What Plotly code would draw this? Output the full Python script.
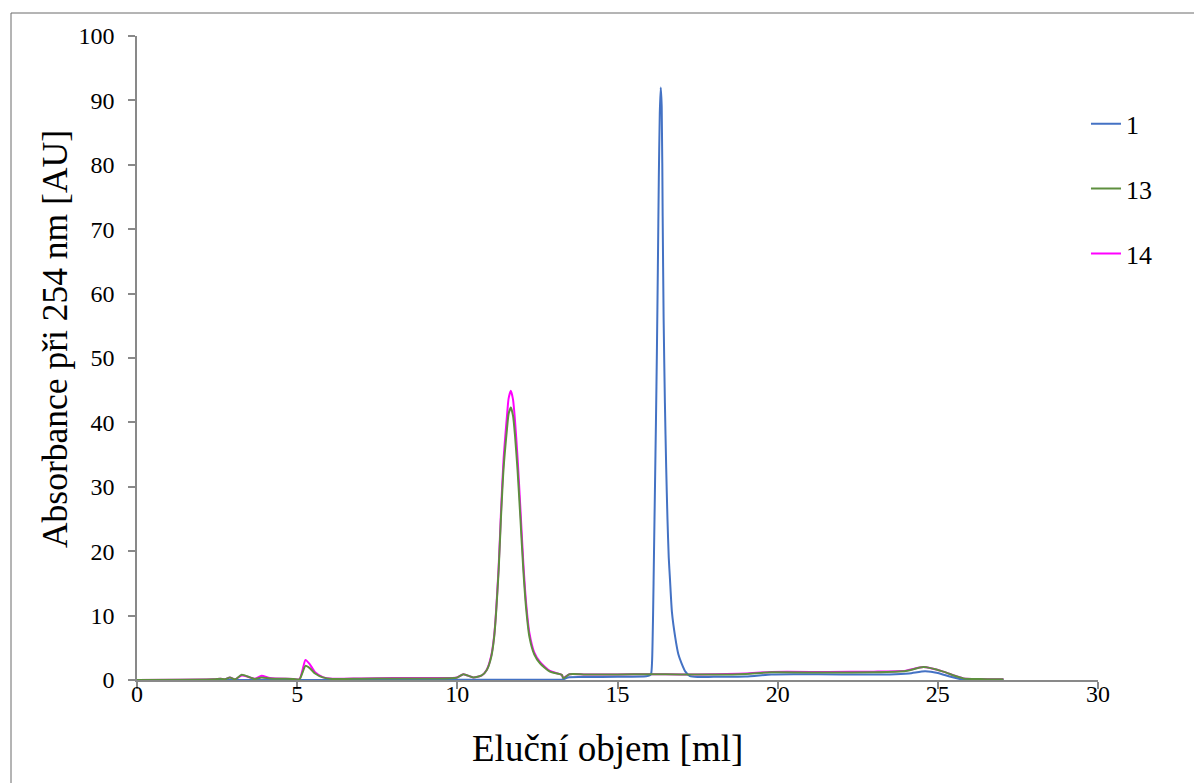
import plotly.graph_objects as go

# ---- data (elution volume [ml], absorbance [AU]) ----
x1 = [0, 2, 4, 6, 8, 10, 12, 13.3, 13.45, 14, 15, 15.9, 16.0, 16.05, 16.08, 16.11, 16.14, 16.17,
      16.20, 16.23, 16.26, 16.29, 16.32, 16.35, 16.38, 16.41, 16.44, 16.48, 16.52, 16.56, 16.60,
      16.64, 16.70, 16.80, 16.90, 17.00, 17.12, 17.26, 17.5, 18, 19, 19.8, 20.5, 22, 23.5, 24.1,
      24.6, 25.0, 25.4, 25.8, 26.5, 27.05]
y1 = [0, 0, 0, 0, 0.05, 0.05, 0.05, 0.1, 0.4, 0.45, 0.5, 0.6, 0.7, 1.0, 3, 10, 20, 30,
      40, 51, 64, 78, 88, 92, 89, 72, 56, 43, 33, 25, 19,
      15.5, 10.5, 6.7, 4.0, 2.6, 1.3, 0.6, 0.45, 0.5, 0.55, 0.85, 0.9, 0.85, 0.85, 1.0,
      1.35, 1.1, 0.5, 0.05, 0.0, 0.0]

x13 = [0, 2.4, 2.6, 2.75, 2.9, 3.06, 3.27, 3.53, 3.68, 3.89, 4.15, 4.88, 5.07, 5.17, 5.26, 5.4,
       5.56, 5.8, 6.1, 7, 8, 9, 9.98, 10.19, 10.5, 10.76, 10.92, 11.05, 11.15, 11.29, 11.36, 11.44,
       11.55, 11.60, 11.67, 11.74, 11.80, 11.88, 11.97, 12.06, 12.15, 12.25, 12.4, 12.58, 12.89,
       13.26, 13.31, 13.5, 14, 15, 16, 17, 18, 19, 19.8, 21.6, 23, 24.0, 24.55, 25.17, 25.5,
       25.8, 26.3, 27.05]
y13 = [0, 0.1, 0.2, 0.1, 0.4, 0.1, 0.8, 0.4, 0.15, 0.4, 0.25, 0.15, 0.1, 1.2, 2.2, 1.8,
       1.0, 0.4, 0.15, 0.2, 0.25, 0.25, 0.35, 0.9, 0.4, 0.7, 1.55, 3.4, 6.7, 17.1, 25, 32.6,
       39, 41.3, 42.3, 41, 38, 32.6, 25, 17.1, 11, 6.7, 4, 2.6, 1.3,
       0.8, 0.26, 0.88, 0.85, 0.85, 0.9, 0.85, 0.85, 0.95, 1.2, 1.15, 1.2, 1.4, 2.0, 1.3, 0.7,
       0.25, 0.15, 0.1]

x14 = [0, 2.4, 2.6, 2.75, 2.9, 3.06, 3.27, 3.53, 3.68, 3.89, 4.15, 4.88, 5.07, 5.17, 5.26, 5.4,
       5.56, 5.8, 6.1, 7, 8, 9, 9.98, 10.19, 10.5, 10.76, 10.92, 11.05, 11.15, 11.29, 11.36, 11.44,
       11.55, 11.60, 11.67, 11.74, 11.80, 11.88, 11.97, 12.06, 12.15, 12.25, 12.4, 12.58, 12.89,
       13.26, 13.31, 13.5, 14, 15, 16, 17, 18, 19, 19.8, 21.6, 23, 24.0, 24.55, 25.17, 25.5,
       25.8, 26.3, 27.05]
y14 = [0, 0.1, 0.2, 0.1, 0.4, 0.1, 0.7, 0.4, 0.2, 0.65, 0.3, 0.15, 0.1, 1.6, 3.1, 2.4,
       1.2, 0.45, 0.2, 0.25, 0.3, 0.3, 0.4, 0.9, 0.4, 0.7, 1.6, 3.6, 6.9, 17.6, 25.8, 34,
       41, 43.7, 44.9, 43.5, 40.3, 34.5, 26.5, 18.2, 11.8, 7.3, 4.3, 2.8, 1.4,
       0.8, 0.3, 0.9, 0.85, 0.85, 0.9, 0.85, 0.9, 1.0, 1.25, 1.25, 1.3, 1.45, 2.0, 1.3, 0.7,
       0.25, 0.15, 0.1]

colors = {"1": "#4472C4", "13": "#5E8F3F", "14": "#FF00FF"}

x_ticks = [0, 5, 10, 15, 20, 25, 30]
y_ticks = [0, 10, 20, 30, 40, 50, 60, 70, 80, 90, 100]
x_title = "Eluční objem [ml]"
y_title = "Absorbance při 254 nm [AU]"

FONT = "Liberation Serif"

fig = go.Figure()
fig.add_trace(go.Scatter(x=x14, y=y14, name="14", mode="lines", legendgroup="g14", legendrank=3,
                         line=dict(color=colors["14"], width=2, shape="spline", smoothing=0.6)))
fig.add_trace(go.Scatter(x=x1, y=y1, name="1", mode="lines", legendgroup="g1", legendrank=1,
                         line=dict(color=colors["1"], width=2, shape="spline", smoothing=0.6)))
fig.add_trace(go.Scatter(x=x13, y=y13, name="13", mode="lines", legendgroup="g13", legendrank=2,
                         line=dict(color=colors["13"], width=2, shape="spline", smoothing=0.6)))

fig.update_layout(
    width=1194, height=775,
    margin=dict(l=129, r=104, t=28, b=103, autoexpand=False),
    paper_bgcolor="white", plot_bgcolor="white",
    font=dict(family=FONT, color="black", size=24),
    showlegend=True,
    legend=dict(x=0.9875, y=0.900, xanchor="left", yanchor="top",
                font=dict(family=FONT, size=26, color="black"),
                tracegroupgap=28, bgcolor="rgba(0,0,0,0)", itemwidth=30),
    xaxis=dict(range=[0, 30], tickvals=x_ticks, ticktext=[str(v) for v in x_ticks],
               showgrid=False, zeroline=False, showline=True, linecolor="#898989", linewidth=1.5,
               ticks="outside", ticklen=7, tickcolor="#898989", tickwidth=1.5,
               ticklabelstandoff=-16,
               tickfont=dict(family=FONT, size=24, color="black")),
    yaxis=dict(range=[0, 100], tickvals=y_ticks, ticktext=[str(v) for v in y_ticks],
               showgrid=False, zeroline=False, showline=True, linecolor="#898989", linewidth=1.5,
               ticks="outside", ticklen=7, tickcolor="#898989", tickwidth=1.5,
               ticklabelstandoff=9,
               tickfont=dict(family=FONT, size=24, color="black")),
    annotations=[
        dict(text=x_title, xref="paper", yref="paper", x=0.4891, y=-0.1056,
             xanchor="center", yanchor="middle", showarrow=False,
             font=dict(family=FONT, size=37, color="black")),
        dict(text=y_title, xref="paper", yref="paper", x=-0.0853, y=0.5295, textangle=-90,
             xanchor="center", yanchor="middle", showarrow=False,
             font=dict(family=FONT, size=35.5, color="black")),
    ],
    shapes=[dict(type="rect", xref="paper", yref="paper",
                 x0=-0.1311, x1=1.3, y0=-0.5, y1=1.0357,
                 line=dict(color="#6a6a6a", width=1), fillcolor="rgba(0,0,0,0)", layer="below")],
)

fig.write_html("out.html")
